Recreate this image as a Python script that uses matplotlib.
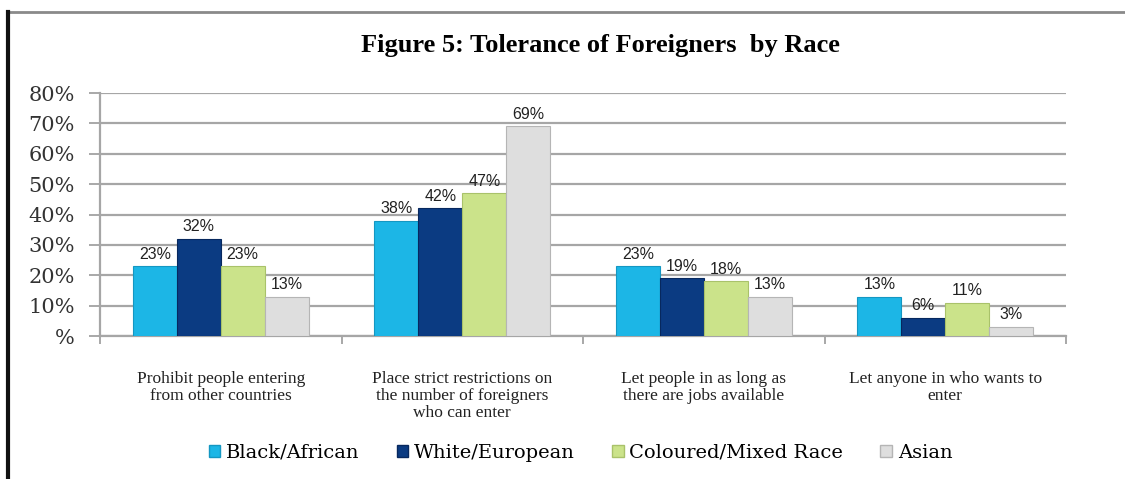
import numpy as np
import matplotlib
matplotlib.use("Agg")
import matplotlib.pyplot as plt
from matplotlib.lines import Line2D
from matplotlib.patches import Patch

# dati
categories = ["Prohibit people entering\nfrom other countries",
              "Place strict restrictions on\nthe number of foreigners\nwho can enter",
              "Let people in as long as\nthere are jobs available",
              "Let anyone in who wants to\nenter"]
groups = ["Black/African", "White/European", "Coloured/Mixed Race", "Asian"]
black_african = [23, 38, 23, 13]
white_european = [32, 42, 19, 6]
coloured_mixed = [23, 47, 18, 11]
asian = [13, 69, 13, 3]
yticks = [0, 10, 20, 30, 40, 50, 60, 70, 80]
ytick_labels = ["%", "10%", "20%", "30%", "40%", "50%", "60%", "70%", "80%"]

series = [black_african, white_european, coloured_mixed, asian]
colors = ["#1cb6e6", "#0b3b82", "#cbe38a", "#dedede"]
edges = ["#1497c2", "#07285e", "#a9c26a", "#b5b5b5"]

fig = plt.figure(figsize=(11.25, 4.79), dpi=100)
ax = fig.add_axes([0.0889, 0.2985, 0.8587, 0.5073])

x = np.arange(len(categories))
w = 0.182
for i, vals in enumerate(series):
    pos = x + (i - 1.5) * w
    bars = ax.bar(pos, vals, width=w, color=colors[i], edgecolor=edges[i],
                  linewidth=0.8, zorder=3)
    for b, v in zip(bars, vals):
        ax.text(b.get_x() + b.get_width() / 2, v + 1.5, f"{v}%", ha="center",
                va="bottom", fontsize=11.5, family="Liberation Sans",
                color="#222222", zorder=4)

ax.set_xlim(-0.5, 3.5)
ax.set_ylim(0, 80)
ax.set_yticks(yticks)
ax.set_yticklabels(ytick_labels, family="DejaVu Serif", fontsize=15, color="#333333")
ax.tick_params(axis="y", length=8, width=1.2, color="#999999", pad=10)
ax.yaxis.grid(True, color="#a6a6a6", linewidth=1.6, zorder=0)
ax.set_axisbelow(True)

ax.set_xticks(x)
ax.set_xticklabels(categories, family="Liberation Serif", fontsize=12.5,
                   color="#222222", linespacing=1.1)
ax.tick_params(axis="x", length=0, pad=25)
ax.set_xticks(np.arange(-0.5, 4.0, 1.0), minor=True)
ax.tick_params(axis="x", which="minor", length=6, width=1.2, color="#999999")

for s in ["top", "right"]:
    ax.spines[s].set_visible(False)
for s in ["left", "bottom"]:
    ax.spines[s].set_color("#a6a6a6")
    ax.spines[s].set_linewidth(1.6)

fig.text(0.534, 0.906, "Figure 5: Tolerance of Foreigners  by Race", ha="center",
         va="center", family="Liberation Serif", fontweight="bold", fontsize=19)

handles = [Patch(facecolor=colors[i], edgecolor=edges[i]) for i in range(4)]
fig.legend(handles, groups, loc="center", bbox_to_anchor=(0.516, 0.055), ncol=4,
           frameon=False, prop={"family": "DejaVu Serif", "size": 14},
           handlelength=0.6, handleheight=0.6, handletextpad=0.3, columnspacing=1.9)

# cornice dell'immagine
fig.add_artist(Line2D([0.006, 1.0], [1 - 12 / 479] * 2, color="#8a8a8a", lw=2))
fig.add_artist(Line2D([0.007, 0.007], [0, 1 - 12 / 479], color="#111111", lw=3))

fig.savefig("out.png", dpi=100)
